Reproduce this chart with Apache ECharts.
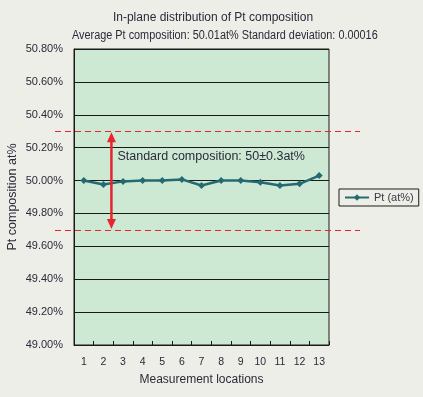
<!DOCTYPE html>
<html>
<head>
<meta charset="utf-8">
<script src="https://cdn.jsdelivr.net/npm/echarts@6/dist/echarts.min.js"></script>
<style>
  html, body { margin: 0; padding: 0; background: #eeeee8; }
  #chart { width: 423px; height: 397px; }
</style>
</head>
<body>
<div id="chart"></div>
<script>
// measurement locations and Pt composition (at%)
const locations = ['1', '2', '3', '4', '5', '6', '7', '8', '9', '10', '11', '12', '13']
const ptValues = [50.00, 49.976, 49.995, 50.00, 50.00, 50.007, 49.97, 50.00, 50.00, 49.99, 49.97, 49.98, 50.03]
// standard composition band 50 ± 0.3
const bandUpper = 50.3
const bandLower = 49.7
const bandLabelValue = 50.143

const chart = echarts.init(document.getElementById('chart'))

const option = {
  backgroundColor: '#eeeee8',
  title: {
    text: 'In-plane distribution of Pt composition',
    left: 208, top: 7, textAlign: 'center',
    textStyle: { fontFamily: 'Liberation Sans', fontSize: 12, fontWeight: 'normal', color: '#2a2a3a' }
  },
  grid: {
    left: 74, top: 49, right: 94, bottom: 52,
    outerBoundsMode: 'none',
    containLabel: false,
    show: true,
    backgroundColor: '#cde9d4',
    borderColor: '#1a1a1a',
    borderWidth: 1
  },
  legend: {
    data: ['Pt (at%)'],
    orient: 'vertical',
    left: 339, top: 189,
    itemWidth: 24, itemHeight: 8,
    padding: [3, 5, 3, 5],
    borderColor: '#1a1a1a', borderWidth: 1,
    textStyle: { fontFamily: 'Liberation Sans', fontSize: 11, color: '#3a3a4a' }
  },
  xAxis: {
    type: 'category',
    data: locations,
    boundaryGap: true,
    name: 'Measurement locations',
    nameLocation: 'middle',
    nameGap: 29,
    nameMoveOverlap: false,
    nameTextStyle: { fontFamily: 'Liberation Sans', fontSize: 12, color: '#2a2a3a' },
    axisLine: { lineStyle: { color: '#1a1a1a', width: 1 } },
    axisTick: { show: true, inside: true, length: 4, lineStyle: { color: '#1a1a1a' } },
    axisLabel: { fontFamily: 'Liberation Sans', fontSize: 10.5, color: '#2a2a3a', margin: 12 }
  },
  yAxis: {
    type: 'value',
    min: 49, max: 50.8, interval: 0.2,
    name: 'Pt composition at%',
    nameLocation: 'middle',
    nameGap: 55,
    nameMoveOverlap: false,
    nameTextStyle: { fontFamily: 'Liberation Sans', fontSize: 12.5, color: '#2a2a3a' },
    axisLine: { show: true, lineStyle: { color: '#1a1a1a' } },
    axisTick: { show: false },
    axisLabel: {
      fontFamily: 'Liberation Sans', fontSize: 11, color: '#2a2a3a', margin: 11,
      formatter: v => v.toFixed(2) + '%'
    },
    splitLine: { show: true, lineStyle: { color: '#1a1a1a', width: 1 } }
  },
  series: [
    {
      name: 'Pt (at%)',
      type: 'line',
      data: ptValues,
      symbol: 'diamond',
      symbolSize: 7,
      lineStyle: { color: '#246a72', width: 2.5 },
      itemStyle: { color: '#246a72' },
      z: 5
    }
  ]
}
chart.setOption(option)

// band lines, arrow and label, placed through the axis scale
const yUp = chart.convertToPixel({ yAxisIndex: 0 }, bandUpper)
const yLo = chart.convertToPixel({ yAxisIndex: 0 }, bandLower)
const yLabel = chart.convertToPixel({ yAxisIndex: 0 }, bandLabelValue)
const x2 = chart.convertToPixel({ xAxisIndex: 0 }, '2')
const ax = x2 + 8
const red = '#e8242c'
const dUp = Math.round(yUp) + 0.5
const dLo = Math.round(yLo) + 0.5

chart.setOption({
  graphic: [
    {
      // condensed subtitle
      type: 'text', x: 72, y: 36, scaleX: 0.87, z: 11,
      style: {
        text: 'Average Pt composition: 50.01at% Standard deviation: 0.00016',
        fontFamily: 'Liberation Sans', fontSize: 12.5, fill: '#2a2a3a',
        verticalAlign: 'middle'
      }
    },
    { type: 'line', shape: { x1: 55, y1: dUp, x2: 360, y2: dUp }, style: { stroke: red, lineWidth: 1.2, lineDash: [6, 4] }, z: 10 },
    { type: 'line', shape: { x1: 55, y1: dLo, x2: 360, y2: dLo }, style: { stroke: red, lineWidth: 1.2, lineDash: [6, 4] }, z: 10 },
    { type: 'line', shape: { x1: ax, y1: yUp + 8, x2: ax, y2: yLo - 8 }, style: { stroke: red, lineWidth: 2.5 }, z: 11 },
    { type: 'polygon', shape: { points: [[ax, yUp + 1], [ax - 4.5, yUp + 11], [ax + 4.5, yUp + 11]] }, style: { fill: red }, z: 11 },
    { type: 'polygon', shape: { points: [[ax, yLo - 1], [ax - 4.5, yLo - 11], [ax + 4.5, yLo - 11]] }, style: { fill: red }, z: 11 },
    {
      type: 'text', x: ax + 6, y: yLabel, z: 11,
      style: {
        text: 'Standard composition: 50±0.3at%',
        fontFamily: 'Liberation Sans', fontSize: 12.5, fill: '#2a2a3a',
        verticalAlign: 'middle'
      }
    }
  ]
})
</script>
</body>
</html>
